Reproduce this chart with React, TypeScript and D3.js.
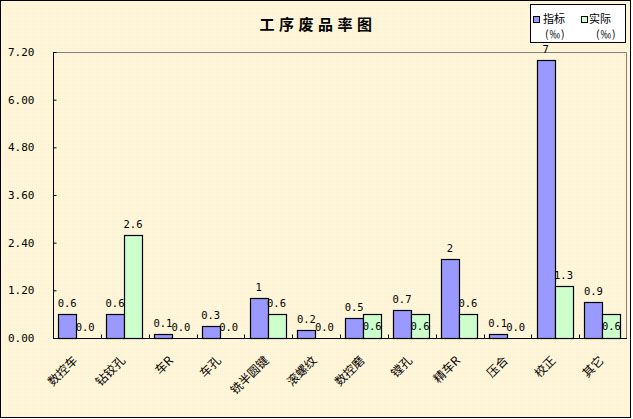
import * as d3 from 'd3';
import React, { FC, useEffect } from 'react';

// 工序废品率数据 (‰)
const categories = ['数控车', '钻铰孔', '车R', '车孔', '铣半圆键', '滚螺纹', '数控磨', '镗孔', '精车R', '压合', '校正', '其它'];
const targetValues = [0.6, 0.6, 0.1, 0.3, 1, 0.2, 0.5, 0.7, 2, 0.1, 7, 0.9];
const actualValues = [0.0, 2.6, 0.0, 0.0, 0.6, 0.0, 0.6, 0.6, 0.6, 0.0, 1.3, 0.6];
const targetLabels = ['0.6', '0.6', '0.1', '0.3', '1', '0.2', '0.5', '0.7', '2', '0.1', '7', '0.9'];
const actualLabels = ['0.0', '2.6', '0.0', '0.0', '0.6', '0.0', '0.6', '0.6', '0.6', '0.0', '1.3', '0.6'];
const yTicks = [0, 1.2, 2.4, 3.6, 4.8, 6.0, 7.2];
const seriesNames = ['指标', '实际'];

const App: FC = () => {
	const ref = React.useRef<SVGSVGElement>(null);
	const { width, height } = { width: 633, height: 419 };
	const margin = { top: 52, right: 6, bottom: 81, left: 53 };
	const colors = ['#9999FF', '#CCFFCC'];
	const numFont = '"DejaVu Sans Mono", monospace';
	const cjkFont = '"Noto Sans CJK SC", sans-serif';

	useEffect(() => {
		const svg = d3.select(ref.current);
		svg.selectAll('*').remove();

		const data = categories.map((name, i) => ({
			name,
			values: [targetValues[i], actualValues[i]],
			labels: [targetLabels[i], actualLabels[i]],
		}));

		// dithered cream background
		const defs = svg.append('defs');
		const pat = defs.append('pattern').attr('id', 'bg').attr('width', 2).attr('height', 2).attr('patternUnits', 'userSpaceOnUse');
		pat.append('rect').attr('width', 2).attr('height', 2).attr('fill', '#FFF7D6');
		pat.append('rect').attr('width', 1).attr('height', 1).attr('fill', '#FCEEDC');

		svg.append('rect').attr('x', 0.5).attr('y', 0.5).attr('width', 630).attr('height', 417)
			.attr('fill', 'url(#bg)').attr('stroke', '#000');

		const x: any = d3.scaleBand().domain(categories).range([margin.left, width - margin.right]).padding(0);
		const x1: any = d3.scaleBand().domain(seriesNames).range([0, x.bandwidth()]).paddingInner(0).paddingOuter(0.33).align(0.44);
		const y: any = d3.scaleLinear().domain([0, 7.2]).range([height - margin.bottom, margin.top]);

		const x0 = margin.left, xr = width - margin.right, yb = y(0), yt = y(7.2);

		// plot frame: top/right grey
		svg.append('path').attr('d', `M${x0},${yt + 0.5}H${xr - 0.5}V${yb}`).attr('fill', 'none').attr('stroke', '#808080');

		// bars
		const g = svg.append('g');
		data.forEach((d) => {
			d.values.forEach((v, j) => {
				if (v <= 0) return;
				g.append('rect')
					.attr('x', Math.round(x(d.name) + x1(seriesNames[j])) + 0.5)
					.attr('y', Math.round(y(v)) + 0.5)
					.attr('width', Math.round(x1.bandwidth()))
					.attr('height', Math.round(yb - y(v)))
					.attr('fill', colors[j])
					.attr('stroke', '#000')
					.attr('stroke-width', 1.2);
			});
		});

		// axes
		const yAxis = (sel: any) =>
			sel.attr('transform', `translate(${x0 + 0.5},0)`)
				.call(d3.axisRight(y).tickValues(yTicks).tickSize(3).tickFormat((t: any) => d3.format('.2f')(t)))
				.call((s: any) => s.selectAll('text').attr('x', -19).attr('text-anchor', 'end')
					.attr('font-family', numFont).attr('font-size', 11).attr('fill', '#000'))
				.call((s: any) => s.select('.domain').attr('d', `M0,${yt}V${yb}`));
		svg.append('g').call(yAxis);

		const xAxis = (sel: any) =>
			sel.attr('transform', `translate(0,${yb + 0.5})`)
				.call(d3.axisTop(x).tickSize(0).tickFormat(() => ''))
				.call((s: any) => s.select('.domain').attr('d', `M${x0},0H${xr}`));
		const xg = svg.append('g').call(xAxis);
		xg.selectAll('line.sep')
			.data(categories.slice(1))
			.join('line')
			.attr('class', 'sep')
			.attr('x1', (c: string) => Math.round(x(c)) + 0.5)
			.attr('x2', (c: string) => Math.round(x(c)) + 0.5)
			.attr('y1', 0).attr('y2', -4)
			.attr('stroke', '#000');

		// category labels, rotated
		svg.append('g').selectAll('text')
			.data(categories)
			.join('text')
			.attr('transform', (c: string) => `translate(${x(c) + x.bandwidth() / 2 - 1},${yb + 21}) rotate(-45)`)
			.attr('text-anchor', 'end')
			.attr('dominant-baseline', 'middle')
			.attr('font-family', cjkFont)
			.attr('font-size', 12)
			.attr('fill', '#000')
			.text((c: string) => c);

		// value labels
		const lg = svg.append('g').attr('font-family', numFont).attr('font-size', 10.5).attr('fill', '#000').attr('text-anchor', 'middle');
		data.forEach((d) => {
			d.values.forEach((v, j) => {
				const cx = x(d.name) + x1(seriesNames[j]) + x1.bandwidth() / 2;
				// small actual labels sit inside their bar when the target is also small
				const inside = j === 1 && v > 0 && v < 1 && d.values[0] < 1;
				const ty = inside ? y(v) + 16 : y(v) - 7;
				lg.append('text').attr('x', cx).attr('y', ty).text(d.labels[j]);
			});
		});

		// title
		svg.append('text')
			.attr('x', 318).attr('y', 30)
			.attr('text-anchor', 'middle')
			.attr('font-family', cjkFont)
			.attr('font-weight', 'bold')
			.attr('font-size', 15)
			.attr('letter-spacing', 4.5)
			.text('工序废品率图');

		// legend
		const leg = svg.append('g');
		leg.append('rect').attr('x', 530.5).attr('y', 4.5).attr('width', 95).attr('height', 38).attr('fill', '#fff').attr('stroke', '#000');
		const items = [
			{ sx: 533, tx: 543, px: 545 },
			{ sx: 581, tx: 589, px: 596 },
		];
		items.forEach((it, j) => {
			leg.append('rect').attr('x', it.sx + 0.5).attr('y', 16.5).attr('width', 6).attr('height', 6)
				.attr('fill', colors[j]).attr('stroke', '#000');
			leg.append('text').attr('x', it.tx).attr('y', 23).attr('font-family', cjkFont).attr('font-size', 11).text(seriesNames[j]);
			leg.append('text').attr('x', it.px).attr('y', 38).attr('font-family', cjkFont).attr('font-size', 10.5).attr('letter-spacing', 1).text('(‰)');
		});
	}, []);

	return (
		<svg
			ref={ref}
			width={width}
			height={height}
			style={{ position: 'absolute', left: 0, top: 0, display: 'block' }}
		/>
	);
};

export default App;
